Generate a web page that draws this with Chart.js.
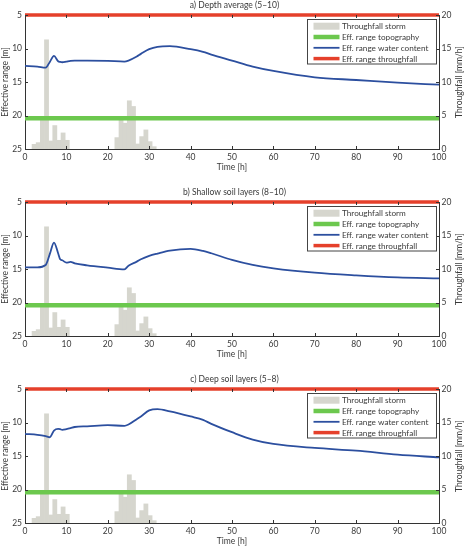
<!DOCTYPE html>
<html>
<head>
<meta charset="utf-8">
<script src="https://cdn.jsdelivr.net/npm/chart.js@4.4.0/dist/chart.umd.min.js"></script>
<style>
  html, body { margin: 0; padding: 0; background: #fff; }
  #wrap { position: relative; width: 469px; height: 549px; }
  canvas { position: absolute; left: 0; width: 469px; height: 175px; }
</style>
</head>
<body>
<div id="wrap">
  <canvas id="panelA" width="469" height="175" style="top:0"></canvas>
  <canvas id="panelB" width="469" height="175" style="top:187px"></canvas>
  <canvas id="panelC" width="469" height="175" style="top:374px"></canvas>
</div>
<script>
const times = [0, 3, 5, 6, 7, 8, 8.5, 9, 10, 11, 12, 15, 20, 24, 25, 27, 28, 30, 32, 35, 40, 43, 45, 50, 55, 60, 70, 80, 90, 100];
const depthAverage = [12.6, 12.7, 12.85, 12.0, 11.1, 11.9, 12.0, 12.05, 11.95, 11.85, 11.8, 11.8, 11.85, 11.95, 11.8, 11.2, 10.8, 10.1, 9.75, 9.65, 10.1, 10.5, 10.9, 11.8, 12.7, 13.35, 14.3, 14.7, 15.1, 15.4];
const shallowLayers = [14.75, 14.75, 14.4, 12.75, 11.05, 12.65, 13.55, 13.7, 14.05, 13.95, 14.15, 14.45, 14.8, 15.05, 14.5, 13.9, 13.55, 13.05, 12.7, 12.25, 12.0, 12.3, 12.65, 13.65, 14.4, 14.9, 15.55, 15.95, 16.25, 16.4];
const deepLayers = [11.7, 11.85, 12.05, 12.2, 11.2, 10.95, 11.0, 11.1, 11.0, 10.85, 10.67, 10.57, 10.4, 10.5, 10.3, 9.5, 9.1, 8.2, 8.0, 8.35, 9.1, 9.6, 10.2, 11.45, 12.55, 13.2, 13.8, 14.2, 14.8, 15.2];

// chuva (throughfall) por hora, mm/h
const stormTimes = [2.2, 3.2, 4.2, 5.2, 6.2, 7.2, 8.2, 9.2, 10.2, 22.2, 23.2, 24.2, 25.2, 26.2, 27.2, 28.2, 29.2, 30.2, 31.2];
const stormRates = [0.7, 0.95, 4.6, 16.3, 1.2, 3.5, 1.3, 2.4, 1.3, 1.7, 4.6, 3.85, 7.2, 6.35, 0.75, 1.85, 2.85, 1.1, 0.35];

// linhas constantes
const rangeTimes = [0, 100];
const topographyRange = [20.4, 20.4];
const throughfallRange = [5, 5];

const titles = ['a) Depth average (5–10)', 'b) Shallow soil layers (8–10)', 'c) Deep soil layers (5–8)'];
const xTicks = [0, 10, 20, 30, 40, 50, 60, 70, 80, 90, 100];

const FONT = 'Lato, "DejaVu Sans", sans-serif';
const TXT = '#3a3a3a';
const AXIS = '#333';
const BAR = '#d6d6ce';
const GREEN = '#6cc84e';
const BLUE = '#2c4f9f';
const RED = '#e5402b';

const pts = (xs, ys) => xs.map((x, i) => ({ x: x, y: ys[i] }));

// ticks para dentro, caixa, titulo do eixo direito e legenda
const matlabFrame = {
  id: 'matlabFrame',
  afterDraw(chart) {
    const { ctx, chartArea: a, scales } = chart;
    ctx.save();
    ctx.strokeStyle = AXIS;
    ctx.lineWidth = 1;
    const seg = (x1, y1, x2, y2) => { ctx.beginPath(); ctx.moveTo(x1, y1); ctx.lineTo(x2, y2); ctx.stroke(); };
    scales.x.ticks.forEach(t => {
      const px = Math.round(scales.x.getPixelForValue(t.value)) + 0.5;
      seg(px, a.bottom, px, a.bottom - 3);
      seg(px, a.top, px, a.top + 3);
    });
    scales.y.ticks.forEach(t => {
      const py = Math.round(scales.y.getPixelForValue(t.value)) + 0.5;
      seg(a.left, py, a.left + 3, py);
    });
    scales.y2.ticks.forEach(t => {
      const py = Math.round(scales.y2.getPixelForValue(t.value)) + 0.5;
      seg(a.right, py, a.right - 3, py);
    });

    // titulo do eixo direito (lido de baixo para cima)
    ctx.fillStyle = TXT;
    ctx.font = '8.5px ' + FONT;
    ctx.textAlign = 'center';
    ctx.textBaseline = 'middle';
    ctx.save();
    ctx.translate(chart.width - 9.5, (a.top + a.bottom) / 2);
    ctx.rotate(-Math.PI / 2);
    ctx.fillText('Throughfall [mm/h]', 0, 0);
    ctx.restore();

    // legenda
    const bw = 129, bh = 44.5;
    const bx = Math.round(a.right - 132) + 0.5, by = Math.round(a.top + 3.5) + 0.5;
    ctx.fillStyle = '#fff';
    ctx.fillRect(bx, by, bw, bh);
    ctx.strokeStyle = '#444';
    ctx.strokeRect(bx, by, bw, bh);
    ctx.font = '8.2px ' + FONT;
    chart.data.datasets.forEach((ds, i) => {
      const cy = by + 6.7 + i * 10.8;
      if (ds.type === 'bar') {
        ctx.fillStyle = ds.backgroundColor;
        ctx.fillRect(bx + 6, cy - 3.5, 26, 7);
      } else {
        ctx.strokeStyle = ds.borderColor;
        ctx.lineWidth = ds.borderWidth;
        seg(bx + 6, cy, bx + 32, cy);
      }
      ctx.fillStyle = TXT;
      ctx.textAlign = 'left';
      ctx.fillText(ds.label, bx + 34.5, cy + 0.5);
    });
    ctx.restore();
  }
};

function makeChart(id, title, water) {
  return new Chart(document.getElementById(id), {
    type: 'line',
    data: {
      datasets: [
        {
          type: 'bar', label: 'Throughfall storm', data: pts(stormTimes, stormRates), yAxisID: 'y2',
          backgroundColor: BAR, borderWidth: 0, barPercentage: 1, categoryPercentage: 1, order: 4
        },
        { label: 'Eff. range topography', data: pts(rangeTimes, topographyRange), borderColor: GREEN, borderWidth: 4.5, order: 3 },
        {
          label: 'Eff. range water content', data: pts(times, water), borderColor: BLUE, borderWidth: 1.8,
          cubicInterpolationMode: 'monotone', order: 2
        },
        { label: 'Eff. range throughfall', data: pts(rangeTimes, throughfallRange), borderColor: RED, borderWidth: 3.5, clip: false, order: 1 }
      ]
    },
    options: {
      responsive: false,
      animation: false,
      devicePixelRatio: 1,
      elements: { point: { radius: 0 } },
      plugins: {
        legend: { display: false },
        tooltip: { enabled: false },
        title: {
          display: true, text: title, color: TXT,
          font: { family: FONT, size: 8.5, weight: 'normal' },
          padding: { top: 0.5, bottom: 4.3 }
        }
      },
      scales: {
        x: {
          type: 'linear', min: 0, max: 100, offset: false,
          afterBuildTicks: s => { s.ticks = xTicks.map(v => ({ value: v })); },
          ticks: { color: TXT, font: { family: FONT, size: 8.5 }, padding: 3, maxRotation: 0 },
          grid: { display: false, drawTicks: false, offset: false },
          border: { color: AXIS },
          title: { display: true, text: 'Time [h]', color: TXT, font: { family: FONT, size: 8.5 }, padding: { top: 0, bottom: 3 } },
          afterFit: s => { s.height = 26; }
        },
        y: {
          position: 'left', reverse: true, min: 5, max: 25,
          ticks: { stepSize: 5, color: TXT, font: { family: FONT, size: 8.5 }, padding: 3 },
          grid: { display: false, drawTicks: false },
          border: { color: AXIS },
          title: { display: true, text: 'Effective range [m]', color: TXT, font: { family: FONT, size: 8.5 }, padding: 0 },
          afterFit: s => { s.width = 25; }
        },
        y2: {
          position: 'right', min: 0, max: 20,
          ticks: { stepSize: 5, color: TXT, font: { family: FONT, size: 8.5 }, padding: 2.5 },
          grid: { display: false, drawTicks: false },
          border: { color: AXIS },
          afterFit: s => { s.width = 30; }
        }
      }
    },
    plugins: [matlabFrame]
  });
}

makeChart('panelA', titles[0], depthAverage);
makeChart('panelB', titles[1], shallowLayers);
makeChart('panelC', titles[2], deepLayers);
</script>
</body>
</html>
